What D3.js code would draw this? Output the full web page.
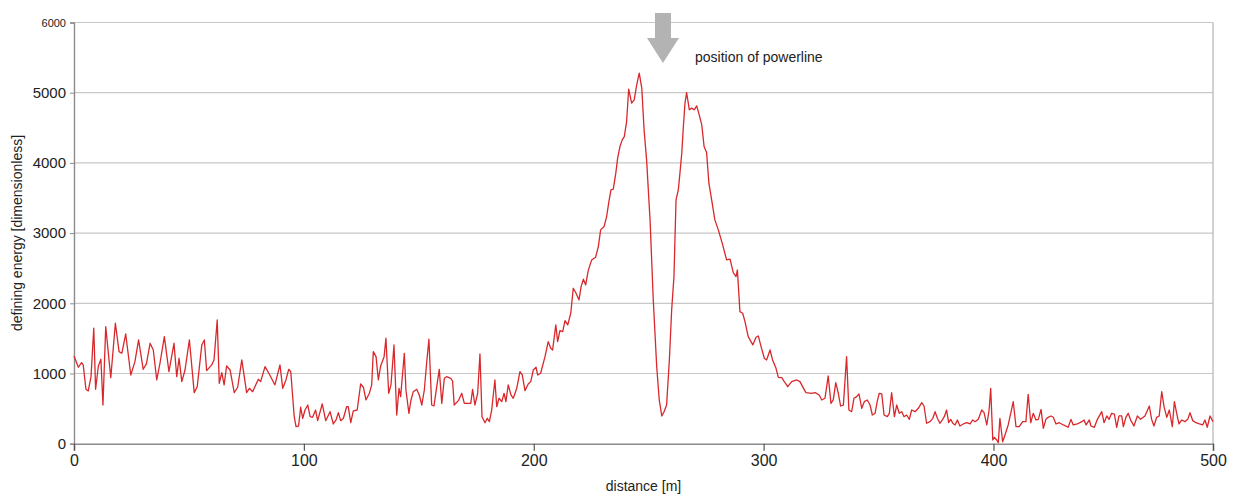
<!DOCTYPE html>
<html>
<head>
<meta charset="utf-8">
<script src="https://cdn.jsdelivr.net/npm/d3@7"></script>
<style>
  html, body { margin: 0; padding: 0; background: #fff; }
  svg { display: block; font-family: "Liberation Sans", Arial, sans-serif; }
</style>
</head>
<body>
<svg id="chart" width="1236" height="495"></svg>
<script>
// ---- data ----
const distance = [
  0,1.9,3.3,4.0,5.2,6.2,7.4,8.6,9.4,10.6,11.7,12.6,13.8,16.0,18.0,19.6,20.8,22.5,24.7,26.5,
  28.1,30.1,31.5,33.1,34.5,36.0,37.4,39.3,41.3,43.5,44.7,45.7,46.9,48.3,50.2,52.3,53.6,55.6,56.7,57.7,
  59.9,60.9,62.3,63.2,64.3,65.3,66.4,67.9,69.7,71.2,73.0,75.1,76.3,77.7,80.2,81.2,83.1,85.0,87.4,89.6,
  90.8,92.2,93.4,94.3,95.8,96.6,97.7,98.6,99.5,100.5,101.7,102.7,103.8,105.1,106.0,108.0,109.5,111.4,112.8,114.0,
  115.0,116.0,117.2,118.6,119.3,120.4,121.5,123.2,124.7,125.9,127.0,128.5,129.5,130.2,131.4,132.4,133.4,134.9,135.7,136.9,
  137.9,139.2,140.4,141.4,142.1,143.7,144.4,145.7,146.6,147.6,149.1,150.2,151.3,152.4,153.4,154.4,155.6,156.6,157.8,158.9,
  160.0,161.1,162.1,163.9,164.7,165.4,167.2,168.7,169.8,171.5,172.6,173.4,174.4,175.6,176.6,177.5,178.8,179.8,180.7,181.7,
  183.1,183.9,184.9,186.1,187.1,187.9,188.9,190.1,191.1,192.6,194.0,195.0,196.2,197.6,198.7,199.8,201.0,201.7,203.0,204.9,
  206.3,207.4,208.2,209.6,210.4,211.4,212.6,213.6,214.8,216.1,217.2,218.4,219.7,220.6,221.6,222.6,223.7,225.2,226.9,228.1,
  229.1,230.6,231.7,232.7,233.6,234.6,235.7,236.5,237.5,238.5,239.4,240.4,241.3,242.6,243.7,244.8,245.9,247.0,248.0,249.1,
  250.6,252.0,253.5,254.6,255.7,256.7,257.8,259.0,260.0,261.0,261.9,262.9,263.6,264.4,265.1,265.8,266.5,267.7,268.7,269.8,
  270.9,272.0,273.1,274.1,275.2,276.2,277.4,278.8,280.3,282.2,283.9,285.4,286.8,288.0,288.6,289.7,290.9,291.9,293.3,295.3,
  296.7,297.7,298.9,300.3,301.3,302.8,303.9,305.4,306.4,307.9,309.0,310.5,312.2,314.4,315.8,318.4,320.9,322.4,324.2,325.3,
  326.7,328.1,329.3,330.3,331.4,332.5,333.5,334.7,336.1,337.1,338.3,339.3,340.5,341.5,342.7,343.8,345.1,346.3,347.3,348.5,
  349.4,350.3,351.4,352.4,353.8,354.7,355.7,356.9,357.9,359.0,360.1,361.1,362.2,363.4,364.4,365.9,367.3,368.8,369.8,370.9,
  372.4,373.6,374.6,375.6,376.7,377.9,378.6,379.6,380.5,381.4,382.3,383.3,384.3,385.4,386.9,388.3,389.8,391.0,392.0,393.4,
  394.9,395.9,397.1,398.1,398.8,399.7,400.4,401.4,402.1,402.8,404.0,405.0,406.4,407.5,408.6,409.8,411.2,412.7,414.1,415.1,
  416.2,417.3,418.5,419.5,420.7,421.7,422.8,423.8,425.0,426.0,427.2,428.6,430.4,432.5,433.7,434.7,436.5,438.4,439.4,440.3,
  441.7,442.4,443.9,445.2,447.1,448.1,449.3,450.3,451.4,452.6,453.6,454.6,455.8,456.5,457.6,458.6,459.8,461.1,462.6,464.0,
  465.9,467.8,468.8,469.8,471.0,472.1,473.2,474.2,475.4,476.5,477.8,478.7,479.7,480.7,481.9,483.3,484.5,485.5,486.7,488.1,
  489.6,491.0,492.0,493.0,494.2,495.5
];
const energy = [
  1250,1089,1155,1122,775,751,955,1645,775,1107,1203,551,1667,940,1716,1311,1288,1563,979,1169,
  1478,1060,1136,1431,1335,908,1146,1525,1026,1431,955,1217,884,1050,1478,727,812,1407,1478,1040,
  1122,1193,1763,861,1012,837,1107,1050,727,804,1193,727,789,741,918,884,1097,989,837,1122,
  789,908,1060,1026,385,242,252,519,362,480,551,385,376,480,328,566,328,456,281,338,
  442,328,362,527,527,299,466,480,851,804,623,718,837,1311,1240,908,1107,1240,1502,718,
  837,1407,409,789,670,1288,765,433,623,741,775,694,551,765,1146,1488,551,537,812,1060,
  575,932,955,932,893,551,613,718,575,575,575,775,551,718,1278,385,299,362,314,480,
  908,527,647,599,718,599,837,694,647,789,1026,979,755,851,884,1050,1089,979,1003,1240,
  1454,1359,1335,1692,1454,1611,1596,1753,1692,1858,2214,2143,2048,2237,2343,2262,2466,2618,2656,2808,
  3046,3093,3235,3449,3616,3626,3854,4068,4233,4328,4375,4589,5050,4851,4898,5112,5279,5065,4471,4043,
  3188,2048,1097,623,395,456,551,1193,1905,2380,3473,3616,3854,4139,4518,4851,5002,4756,4780,4756,
  4813,4684,4542,4233,4147,3711,3473,3188,3046,2832,2618,2628,2437,2380,2475,1881,1858,1739,1525,1407,
  1516,1535,1382,1217,1193,1335,1193,1074,946,941,884,812,884,908,884,727,718,727,694,623,
  647,965,575,623,870,718,537,551,1240,480,456,647,670,708,504,599,623,551,409,433,
  599,718,708,409,385,433,727,385,551,433,456,385,409,347,480,456,504,584,537,291,
  314,362,456,362,291,347,385,480,299,347,291,267,338,252,281,299,281,338,314,347,
  480,442,267,480,789,53,91,53,14,362,28,124,267,433,599,242,242,314,314,704,
  299,433,338,347,490,219,347,376,395,376,281,299,267,234,347,267,281,314,338,267,
  338,252,234,347,456,299,395,347,433,423,234,395,395,242,376,433,328,252,395,347,
  395,537,347,252,376,395,741,527,376,480,242,599,433,281,338,314,347,442,328,299,
  281,267,338,234,395,314
];
const yTicks = [0, 1000, 2000, 3000, 4000, 5000, 6000];
const xTickValues = [0, 100, 200, 300, 400, 495.5];
const xTickLabels = ["0", "100", "200", "300", "400", "500"];
const xMax = 495.5;
const yMax = 6000;
const arrowAt = 256;           // distance of the powerline marker
const annotation = "position of powerline";
const xTitle = "distance [m]";
const yTitle = "defining energy [dimensionless]";

// ---- layout ----
const svg = d3.select("#chart");
const mLeft = 74, mRight = 1213, mTop = 22.5, mBottom = 443.7;

const x = d3.scaleLinear().domain([0, xMax]).range([mLeft, mRight]);
const y = d3.scaleLinear().domain([0, yMax]).range([mBottom, mTop]);

// gridlines
svg.append("g")
  .selectAll("line")
  .data(yTicks.filter(d => d > 0))
  .join("line")
  .attr("x1", mLeft).attr("x2", mRight)
  .attr("y1", d => y(d)).attr("y2", d => y(d))
  .attr("stroke", "#c8c8c8").attr("stroke-width", 1.2);

// right border
svg.append("line")
  .attr("x1", mRight).attr("x2", mRight)
  .attr("y1", mTop).attr("y2", mBottom)
  .attr("stroke", "#b4b4b4").attr("stroke-width", 1.2);

// y axis
const yAxis = d3.axisLeft(y).tickValues(yTicks).tickSize(4).tickPadding(4).tickFormat(d3.format("d"));
const gy = svg.append("g").attr("transform", `translate(${mLeft},0)`).call(yAxis);
gy.select(".domain").attr("stroke", "#8c8c8c").attr("stroke-width", 1.4);
gy.selectAll(".tick line").attr("stroke", "#8c8c8c");
gy.selectAll(".tick text")
  .attr("fill", "#222")
  .style("font-size", d => d === 6000 ? "11px" : "15px")
  .style("font-family", "'Liberation Sans', Arial, sans-serif");

// x axis
const xAxis = d3.axisBottom(x).tickValues(xTickValues).tickSize(7).tickPadding(4)
  .tickFormat((d, i) => xTickLabels[i]);
const gx = svg.append("g").attr("transform", `translate(0,${mBottom})`).call(xAxis);
gx.select(".domain").attr("stroke", "#8c8c8c").attr("stroke-width", 1.6);
gx.selectAll(".tick line").attr("stroke", "#555").attr("stroke-width", 1.2);
gx.selectAll(".tick text")
  .attr("fill", "#222")
  .style("font-size", "16px")
  .style("font-family", "'Liberation Sans', Arial, sans-serif");

// data line
const pts = distance.map((d, i) => [d, energy[i]]);
svg.append("path")
  .datum(pts)
  .attr("fill", "none")
  .attr("stroke", "#d8282c")
  .attr("stroke-width", 1.3)
  .attr("stroke-linejoin", "round")
  .attr("d", d3.line().x(d => x(d[0])).y(d => y(d[1])));

// arrow marker
const ax = x(arrowAt) + 0.5;
svg.append("path")
  .attr("d", `M${ax - 8},13 L${ax + 8},13 L${ax + 8},38 L${ax + 16},38 L${ax},63 L${ax - 16},38 L${ax - 8},38 Z`)
  .attr("fill", "#b3b3b3");

svg.append("text")
  .attr("x", 695).attr("y", 62)
  .attr("fill", "#222")
  .style("font-size", "14px")
  .text(annotation);

// axis titles
svg.append("text")
  .attr("x", (mLeft + mRight) / 2).attr("y", 491)
  .attr("text-anchor", "middle")
  .attr("fill", "#222")
  .style("font-size", "14px")
  .text(xTitle);

svg.append("text")
  .attr("transform", `translate(22,233) rotate(-90)`)
  .attr("text-anchor", "middle")
  .attr("fill", "#222")
  .style("font-size", "14px")
  .text(yTitle);
</script>
</body>
</html>
